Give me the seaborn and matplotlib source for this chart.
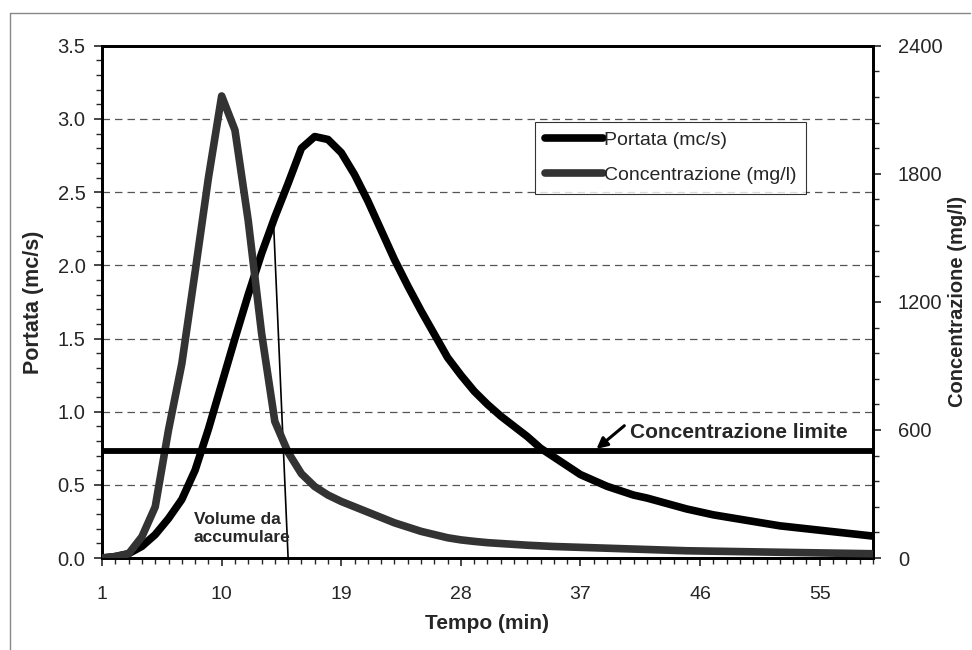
import matplotlib
matplotlib.use("Agg")
from matplotlib import pyplot as plt
from matplotlib.lines import Line2D
from matplotlib.ticker import MultipleLocator, FixedLocator
import pandas as pd
import seaborn as sns

# time categories (min)
tempo = list(range(1, 60))
tick_labels = [1, 10, 19, 28, 37, 46, 55]

portata = [0.00, 0.01, 0.03, 0.08, 0.16, 0.27, 0.40, 0.60, 0.88, 1.19,
           1.50, 1.80, 2.08, 2.33, 2.56, 2.80, 2.88, 2.86, 2.77, 2.62,
           2.44, 2.24, 2.04, 1.86, 1.69, 1.53, 1.37, 1.25, 1.14, 1.05,
           0.97, 0.90, 0.83, 0.75, 0.69, 0.63, 0.57, 0.53, 0.49, 0.46,
           0.43, 0.41, 0.385, 0.36, 0.335, 0.315, 0.295, 0.28, 0.265, 0.25,
           0.235, 0.22, 0.21, 0.20, 0.19, 0.18, 0.17, 0.16, 0.15]

concentrazione = [0, 7, 20, 100, 240, 600, 910, 1340, 1780, 2165,
                  2005, 1580, 1055, 640, 495, 395, 335, 295, 265, 240,
                  215, 190, 165, 145, 125, 110, 95, 85, 78, 72,
                  68, 64, 60, 57, 54, 52, 50, 48, 46, 44,
                  42, 40, 38, 36, 34, 33, 32, 31, 30, 29,
                  28, 27, 26, 25, 24, 23, 22, 21, 20]

conc_limite = 500
volume_x = [13.9, 15.0]
volume_y = [2.30, 0.0]

df = pd.DataFrame({"Tempo": tempo, "Portata": portata,
                   "Concentrazione": concentrazione,
                   "Limite": [conc_limite] * len(tempo)})

sns.set_style("white")
plt.rcParams['font.family'] = ['Liberation Sans', 'DejaVu Sans']

fig = plt.figure(figsize=(9.72, 6.5), dpi=100)
ax = fig.add_axes([0.105, 0.1415, 0.793, 0.788])
ax2 = ax.twinx()

sns.lineplot(data=df, x="Tempo", y="Portata", ax=ax, color="black",
             linewidth=5.5, label="Portata (mc/s)", legend=False, zorder=4)
sns.lineplot(data=df, x="Tempo", y="Concentrazione", ax=ax2, color="#333333",
             linewidth=5.5, label="Concentrazione (mg/l)", legend=False, zorder=3)
sns.lineplot(data=df, x="Tempo", y="Limite", ax=ax2, color="black",
             linewidth=4.2, legend=False, zorder=3)
ax.plot(volume_x, volume_y, color="black", linewidth=1.2, zorder=5)

ax.set_xlim(1, 59)
ax.set_ylim(0, 3.5)
ax2.set_ylim(0, 2400)

ax.yaxis.set_major_locator(MultipleLocator(0.5))
ax.yaxis.set_minor_locator(MultipleLocator(0.1))
ax.set_yticklabels([f"{v:.1f}" for v in ax.get_yticks()])
ax2.yaxis.set_major_locator(MultipleLocator(600))
ax2.yaxis.set_minor_locator(MultipleLocator(120))
ax.xaxis.set_major_locator(FixedLocator(tick_labels))
ax.xaxis.set_minor_locator(MultipleLocator(1))

for y in [0.5, 1.0, 1.5, 2.0, 2.5, 3.0]:
    ax.axhline(y, color="#555555", linestyle=(0, (6, 4)), linewidth=0.9, zorder=1)

ax.tick_params(axis="y", which="major", direction="out", length=6, width=1.2,
               labelsize=14.5, pad=6, left=True)
ax.tick_params(axis="x", which="major", direction="out", length=6, width=1.2,
               labelsize=14, pad=14, bottom=True)
ax.tick_params(axis="both", which="minor", direction="out", length=4, width=1.0)
ax.tick_params(axis="x", which="minor", bottom=True)
ax2.tick_params(axis="y", which="major", direction="out", length=6, width=1.2,
                labelsize=14.5, pad=12, right=True)
ax2.tick_params(axis="y", which="minor", direction="out", length=4, width=1.0, right=True)

for a in (ax, ax2):
    for s in a.spines.values():
        s.set_color("black")
        s.set_linewidth(2)

ax.set_xlabel("Tempo (min)", fontsize=15, fontweight="bold", labelpad=8)
ax.set_ylabel("Portata (mc/s)", fontsize=15.5, fontweight="bold", labelpad=10)
ax2.set_ylabel("Concentrazione (mg/l)", fontsize=14.5, fontweight="bold", labelpad=4)

h1, l1 = ax.get_legend_handles_labels()
h2, l2 = ax2.get_legend_handles_labels()
leg = ax2.legend(h1 + h2, l1 + l2, loc="upper left", bbox_to_anchor=(0.5616, 0.852),
                 fontsize=14, frameon=True, fancybox=False, handlelength=3.0,
                 handletextpad=0.05, borderpad=0.5, labelspacing=0.9,
                 borderaxespad=0)
leg.get_frame().set_edgecolor("black")
leg.get_frame().set_linewidth(0.8)

ax2.annotate("", xy=(38.2, 511), xytext=(40.3, 620),
             arrowprops=dict(arrowstyle="-|>", color="black", lw=2.2, mutation_scale=16,
                             shrinkA=0, shrinkB=0))
ax2.text(40.7, 590, "Concentrazione limite", fontsize=15, fontweight="bold",
         va="center", ha="left")
ax.text(7.9, 0.20, "Volume da\naccumulare", fontsize=12.5, fontweight="bold",
        ha="left", va="center", linespacing=1.25, zorder=6)

fig.add_artist(Line2D([0.01, 0.998], [0.98, 0.98], color="#888888", linewidth=1.0))
fig.add_artist(Line2D([0.01, 0.01], [0.0, 0.98], color="#888888", linewidth=1.0))

plt.savefig("out.png", dpi=100)
